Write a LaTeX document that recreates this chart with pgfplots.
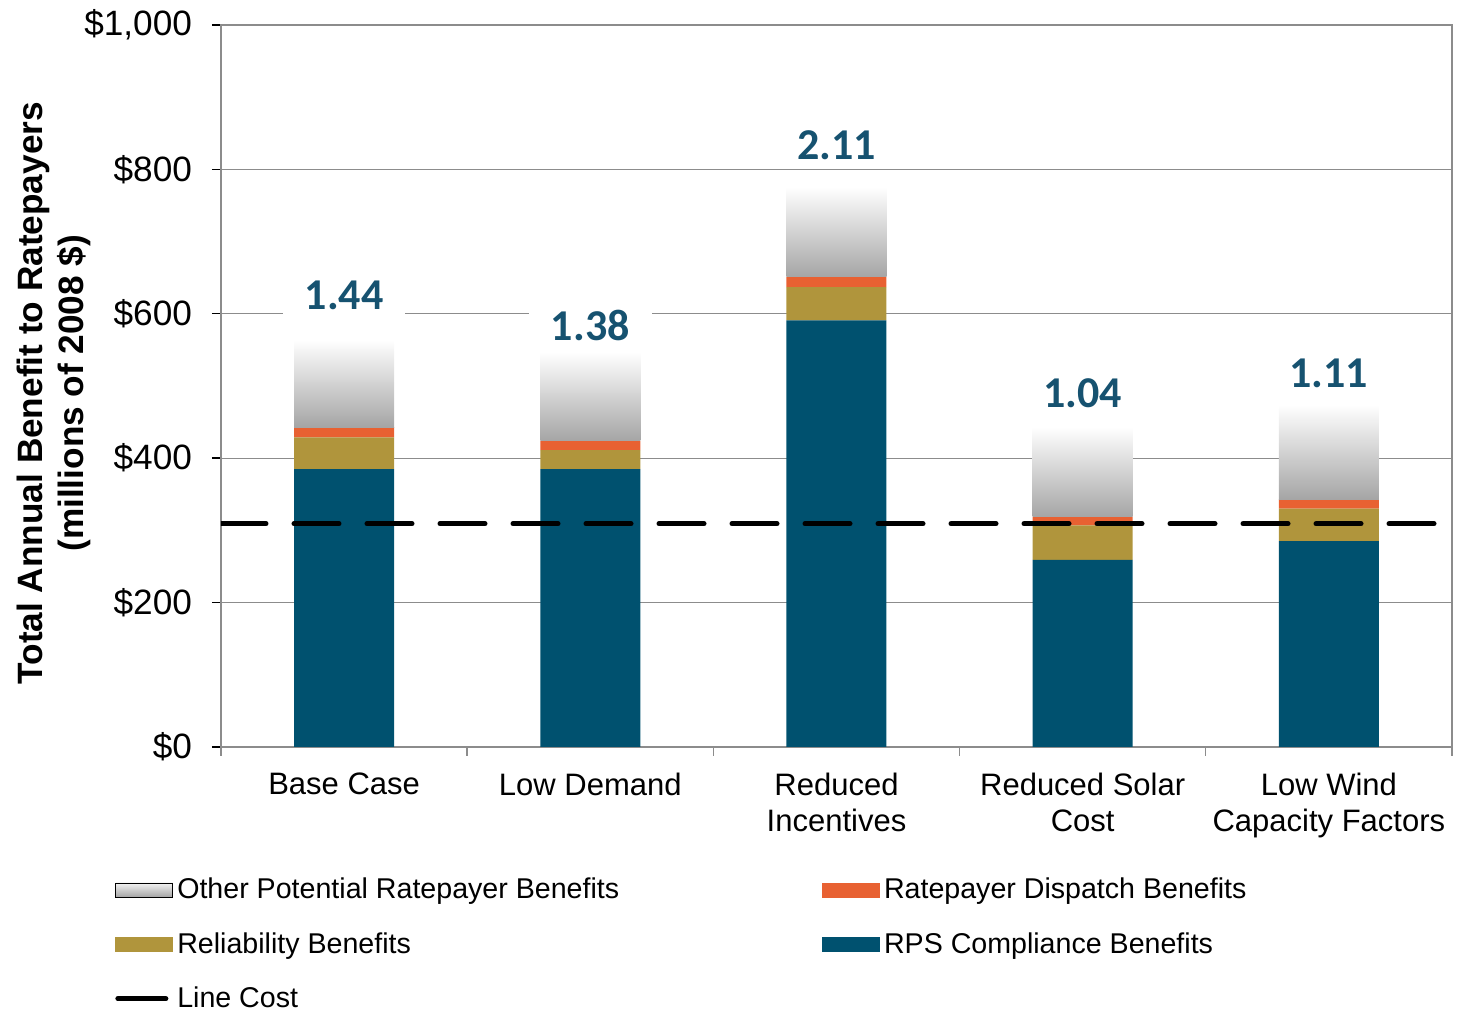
\documentclass[border=0pt]{standalone}
\usepackage{fontspec}
\setmainfont{Liberation Sans}
\newfontfamily\calibri{Carlito}
\usepackage{pgfplots}
\pgfplotsset{compat=1.18}
\definecolor{rps}{RGB}{0,81,111}
\definecolor{rel}{RGB}{176,149,60}
\definecolor{disp}{RGB}{232,97,50}
\definecolor{lbl}{RGB}{22,82,112}
\definecolor{othbot}{RGB}{165,165,165}
\definecolor{gridc}{RGB}{140,140,140}
\begin{document}
\begin{tikzpicture}
\begin{axis}[
  scale only axis, width=615.5pt, height=361pt,
  xmin=-0.5, xmax=4.5, ymin=0, ymax=1000,
  ybar stacked, bar width=50pt,
  axis line style={gridc, line width=0.7pt},
  xtick={0,1,2,3,4},
  xticklabels={Base Case, Low Demand, Reduced\\Incentives, Reduced Solar\\Cost, Low Wind\\Capacity Factors},
  major x tick style={draw=none},
  minor xtick={-0.5,0.5,1.5,2.5,3.5,4.5},
  minor x tick style={gridc, line width=0.7pt},
  minor tick length=4.5pt,
  ytick={0,200,400,600,800,1000},
  yticklabels={\$0,\$200,\$400,\$600,\$800,\$1{,}000},
  major tick length=4.5pt,
  tick align=outside, tick pos=left,
  y tick style={black, line width=0.7pt},
  ymajorgrids, grid style={gridc, line width=0.5pt},
  xticklabel style={font=\fontsize{15.5}{18}\selectfont, align=center, anchor=north, yshift=-5pt},
  yticklabel style={font=\fontsize{17.6}{20}\selectfont, anchor=east, xshift=-6.5pt},
  every axis y label/.style={at={(axis description cs:-0.136,0.49)}, rotate=90, anchor=center, align=center, font=\fontsize{17.6}{20.5}\selectfont\bfseries},
  ylabel={Total Annual Benefit to Ratepayers\\(millions of 2008 \$)},
  legend columns=2,
  legend style={at={(axis description cs:-0.091,-0.170)}, anchor=north west, draw=none, fill=none,
    font=\fontsize{14.3}{17}\selectfont, row sep=11.3pt,
    /tikz/every even column/.append style={column sep=99.5pt}},
  legend cell align=left,
]
\addplot[fill=rps, draw=none, forget plot] coordinates {(0,385) (1,385) (2,591) (3,259) (4,285)};
\addplot[fill=rel, draw=none, forget plot] coordinates {(0,44) (1,26) (2,46) (3,48) (4,45)};
\addplot[fill=disp, draw=none, forget plot] coordinates {(0,14) (1,13) (2,14) (3,12) (4,13)};
\addlegendimage{legend image code/.code={\fill[top color=white!90!gray, bottom color=othbot] (0pt,-3.5pt) rectangle (28.5pt,3.5pt);}}
\addlegendentry{Other Potential Ratepayer Benefits}
\addlegendimage{legend image code/.code={\fill[disp] (0pt,-3.5pt) rectangle (28.5pt,3.5pt);}}
\addlegendentry{Ratepayer Dispatch Benefits}
\addlegendimage{legend image code/.code={\fill[rel] (0pt,-3.5pt) rectangle (28.5pt,3.5pt);}}
\addlegendentry{Reliability Benefits}
\addlegendimage{legend image code/.code={\fill[rps] (0pt,-3.5pt) rectangle (28.5pt,3.5pt);}}
\addlegendentry{RPS Compliance Benefits}
\addlegendimage{legend image code/.code={\draw[black, line width=2.5pt, line cap=round] (1pt,0pt) -- (25pt,0pt);}}
\addlegendentry{Line Cost}
\end{axis}
\begin{axis}[
  scale only axis, width=615.5pt, height=361pt,
  xmin=-0.5, xmax=4.5, ymin=0, ymax=1000,
  hide axis,
]
% Other Potential Ratepayer Benefits: one shaded bar per case (base = dispatch top, top = total)
\addplot[draw=none, top color=white, bottom color=othbot] coordinates {(-0.2031,443) (0.2031,443) (0.2031,564) (-0.2031,564)};
\addplot[draw=none, top color=white, bottom color=othbot] coordinates {(0.7969,424) (1.2031,424) (1.2031,547) (0.7969,547)};
\addplot[draw=none, top color=white, bottom color=othbot] coordinates {(1.7969,651) (2.2031,651) (2.2031,776) (1.7969,776)};
\addplot[draw=none, top color=white, bottom color=othbot] coordinates {(2.7969,319) (3.2031,319) (3.2031,443) (2.7969,443)};
\addplot[draw=none, top color=white, bottom color=othbot] coordinates {(3.7969,343) (4.2031,343) (4.2031,474) (3.7969,474)};
\addplot[black, line width=2.5pt, dash pattern=on 22.5pt off 14pt, line cap=round] coordinates {(-0.5,309) (4.5,309)};
\addplot[draw=none, mark=none, nodes near coords, point meta=explicit symbolic,
  nodes near coords style={anchor=center, fill=white, inner xsep=11pt, inner ysep=4pt, text=lbl, font=\fontsize{22}{24}\calibri\bfseries}]
  coordinates {(0,626)[1.44] (1,584)[1.38] (2,834)[2.11] (3,490)[1.04] (4,518)[1.11]};
\end{axis}
\pgfresetboundingbox
\useasboundingbox (-110.5pt,-131.5pt) rectangle (618.5pt,373.5pt);
\end{tikzpicture}
\end{document}
